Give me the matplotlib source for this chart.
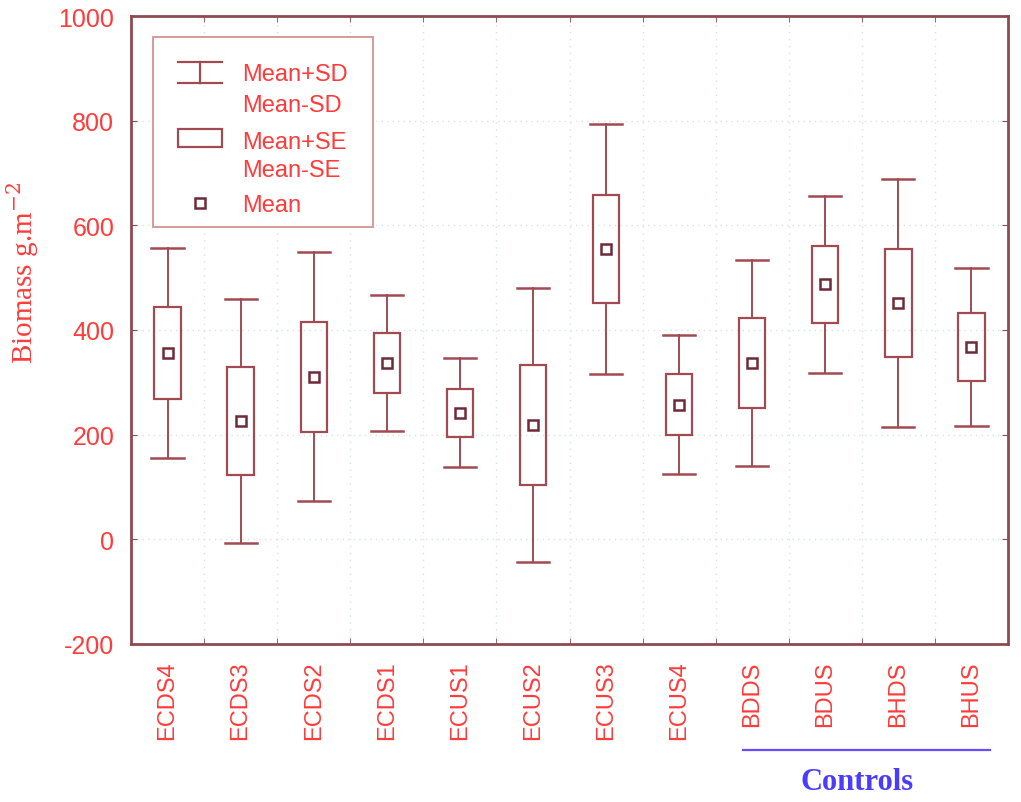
import matplotlib
matplotlib.use("Agg")
import matplotlib.pyplot as plt
import matplotlib.transforms as mtransforms
from matplotlib.patches import Rectangle
from matplotlib.lines import Line2D

groups = ["ECDS4", "ECDS3", "ECDS2", "ECDS1", "ECUS1", "ECUS2",
          "ECUS3", "ECUS4", "BDDS", "BDUS", "BHDS", "BHUS"]
means = [356, 226, 311, 337, 242, 219, 555, 257, 337, 487, 452, 368]
se = [88, 103, 105, 58, 46, 115, 103, 58, 86, 73, 103, 65]
sd = [201, 233, 238, 130, 104, 262, 239, 133, 196, 170, 237, 151]
controls = ["BDDS", "BDUS", "BHDS", "BHUS"]

RED = "#ff3b3b"
BOX = "#a24a52"
SPINE = "#8e4a50"
GRID = "#d6e4e4"

plt.rcParams["axes.unicode_minus"] = False
plt.rcParams["mathtext.fontset"] = "dejavuserif"

fig = plt.figure(figsize=(10.21, 8.03), dpi=100)
ax = fig.add_axes([0.1283, 0.1968, 0.859, 0.782])

x = list(range(len(groups)))
bw = 0.36
cap = 0.22
for i, m, s, d in zip(x, means, se, sd):
    ax.plot([i, i], [m + s, m + d], color=BOX, lw=1.4, zorder=3)
    ax.plot([i, i], [m - s, m - d], color=BOX, lw=1.4, zorder=3)
    ax.plot([i - cap, i + cap], [m + d, m + d], color=BOX, lw=1.8, zorder=3)
    ax.plot([i - cap, i + cap], [m - d, m - d], color=BOX, lw=1.8, zorder=3)
    ax.add_patch(Rectangle((i - bw / 2, m - s), bw, 2 * s, fill=False,
                           edgecolor=BOX, lw=1.6, zorder=3))
ax.plot(x, means, ls="none", marker="s", ms=6.5, mfc="white",
        mec="#6e2a38", mew=1.8, zorder=4)

ax.set_xlim(-0.5, len(groups) - 0.5)
ax.set_ylim(-200, 1000)
ax.set_yticks(range(-200, 1001, 200))
ax.set_xticks(x)
ax.set_xticklabels(groups, rotation=90, color=RED, fontsize=17,
                   family="Liberation Sans")
ax.set_xticks([i + 0.5 for i in x[:-1]], minor=True)
ax.tick_params(axis="x", which="major", length=0, pad=12)
ax.tick_params(axis="x", which="minor", length=4, direction="in",
               color=SPINE, top=True)
ax.tick_params(axis="y", length=4, direction="in", color=SPINE,
               right=True, labelcolor=RED, labelsize=18, pad=12)
for lab in ax.get_yticklabels():
    lab.set_family("Liberation Sans")

for sp in ax.spines.values():
    sp.set_color(SPINE)
    sp.set_linewidth(2)

for yv in range(0, 1000, 200):
    ax.axhline(yv, color=GRID, lw=1, ls=(0, (1, 3)), zorder=1)
for xv in [i + 0.5 for i in x[:-1]]:
    ax.axvline(xv, color=GRID, lw=1, ls=(0, (1, 4)), zorder=1)

# legend drawn by hand in axes coordinates
T = ax.transAxes
ax.add_patch(Rectangle((0.025, 0.664), 0.251, 0.303, transform=T,
                       facecolor="white", edgecolor="#d79a9a", lw=1.4,
                       zorder=5))
lx0, lx1, lxm = 0.054, 0.104, 0.079
for yy in (0.927, 0.893):
    ax.add_line(Line2D([lx0, lx1], [yy, yy], transform=T, color=BOX,
                       lw=1.6, zorder=6))
ax.add_line(Line2D([lxm, lxm], [0.893, 0.927], transform=T, color=BOX,
                   lw=1.6, zorder=6))
ax.add_patch(Rectangle((lx0, 0.792), lx1 - lx0, 0.028, transform=T,
                       fill=False, edgecolor=BOX, lw=1.6, zorder=6))
ax.plot([lxm], [0.702], transform=T, marker="s", ms=6.5, mfc="white",
        mec="#6e2a38", mew=1.8, zorder=6)
leg_kw = dict(transform=T, color=RED, fontsize=17, family="Liberation Sans",
              va="center", ha="left", zorder=7)
ax.text(0.127, 0.908, "Mean+SD", **leg_kw)
ax.text(0.127, 0.858, "Mean-SD", **leg_kw)
ax.text(0.127, 0.800, "Mean+SE", **leg_kw)
ax.text(0.127, 0.754, "Mean-SE", **leg_kw)
ax.text(0.127, 0.699, "Mean", **leg_kw)

fig.text(0.022, 0.66, "Biomass g.m$^{-2}$", rotation=90, color=RED,
         fontsize=21, family="Liberation Serif", ha="center", va="center")

# bracket under the control groups
blend = mtransforms.blended_transform_factory(ax.transData, fig.transFigure)
i0 = groups.index(controls[0])
i1 = groups.index(controls[-1])
fig.add_artist(Line2D([i0 - 0.12, i1 + 0.25], [0.065, 0.065],
                      transform=blend, color="#6a4cff", lw=1.6))
fig.text((i0 + i1) / 2 - 0.07, 0.025, "Controls", transform=blend,
         color="#4a3cff", fontsize=22, family="Liberation Serif",
         weight="bold", ha="center", va="center")

fig.savefig("out.png", dpi=100)
